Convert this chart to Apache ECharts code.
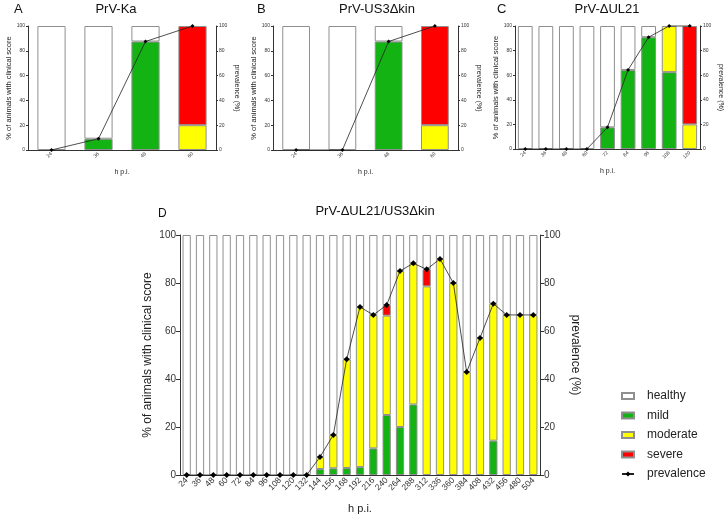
<!DOCTYPE html>
<html><head><meta charset="utf-8">
<script src="https://cdn.jsdelivr.net/npm/echarts@6/dist/echarts.min.js"></script>
<style>html,body{margin:0;padding:0;background:#fff}#c{width:728px;height:520px}</style>
</head><body><div id="c"></div>
<script>
// ---------- data ----------
const catsA = ['24','36','48','60'];
const mildA = [0, 9.1, 87.5, 0];
const moderateA = [0, 0, 0, 20];
const severeA = [0, 0, 0, 80];
const prevA = [0, 9.1, 87.5, 100];

const catsB = ['24','36','48','60'];
const mildB = [0, 0, 87.5, 0];
const moderateB = [0, 0, 0, 20];
const severeB = [0, 0, 0, 80];
const prevB = [0, 0, 87.5, 100];

const catsC = ['24','36','48','60','72','84','96','108','120'];
const mildC = [0, 0, 0, 0, 17.6, 64.3, 90.9, 62.5, 0];
const moderateC = [0, 0, 0, 0, 0, 0, 0, 37.5, 20];
const severeC = [0, 0, 0, 0, 0, 0, 0, 0, 80];
const prevC = [0, 0, 0, 0, 17.6, 64.3, 90.9, 100, 100];

const catsD = ['24','36','48','60','72','84','96','108','120','132','144','156','168','192','216','240','264','288','312','336','360','384','408','432','456','480','504'];
const mildD = [0,0,0,0,0,0,0,0,0,0, 2.5, 2.8, 2.9, 3.3, 11.1, 25, 20, 29.4, 0, 0, 0, 0, 0, 14.3, 0, 0, 0];
const moderateD = [0,0,0,0,0,0,0,0,0,0, 5, 13.9, 45.3, 66.7, 55.6, 41.4, 65, 58.8, 78.6, 90, 80, 42.9, 57.1, 57.1, 66.7, 66.7, 66.7];
const severeD = [0,0,0,0,0,0,0,0,0,0, 0, 0, 0, 0, 0, 4.4, 0, 0, 7.1, 0, 0, 0, 0, 0, 0, 0, 0];
const prevD = [0,0,0,0,0,0,0,0,0,0, 7.5, 16.7, 48.2, 70, 66.7, 70.8, 85, 88.2, 85.7, 90, 80, 42.9, 57.1, 71.4, 66.7, 66.7, 66.7];

const titlesSmall = ['PrV-Ka', 'PrV-US3\u0394kin', 'PrV-\u0394UL21'];
const titleD = 'PrV-\u0394UL21/US3\u0394kin';
const panelLetters = ['A', 'B', 'C', 'D'];
const legendNames = ['healthy', 'mild', 'moderate', 'severe', 'prevalence'];
const yLeftName = '% of animals with clinical score';
const yRightName = 'prevalence (%)';
const xName = 'h p.i.';

// ---------- style / layout ----------
const FONT = 'Liberation Sans, Arial, sans-serif';
const COL = { healthy: '#ffffff', mild: '#14b314', moderate: '#ffff00', severe: '#ff0000' };
const BORDER = '#8f8f8f';
const AX = '#333333';

const panels = [
  { cats: catsA, mild: mildA, moderate: moderateA, severe: severeA, prev: prevA,
    grid: { left: 28, top: 26, width: 188, height: 124 }, small: true, barWidth: '60%' },
  { cats: catsB, mild: mildB, moderate: moderateB, severe: severeB, prev: prevB,
    grid: { left: 273, top: 26, width: 185, height: 124 }, small: true, barWidth: '60%' },
  { cats: catsC, mild: mildC, moderate: moderateC, severe: severeC, prev: prevC,
    grid: { left: 515, top: 26, width: 185, height: 123 }, small: true, barWidth: '72%' },
  { cats: catsD, mild: mildD, moderate: moderateD, severe: severeD, prev: prevD,
    grid: { left: 180, top: 235, width: 360, height: 240 }, small: false, barWidth: '62%' }
];

const nz = arr => arr.map(v => (v === 0 ? null : v));

const grids = [], xAxes = [], yAxes = [], series = [];
panels.forEach((p, i) => {
  const s = p.small;
  grids.push(Object.assign({}, p.grid));
  xAxes.push({
    type: 'category', gridIndex: i, data: p.cats,
    axisLine: { lineStyle: { color: AX, width: 1 } },
    axisTick: { alignWithLabel: true, length: s ? 2 : 4, lineStyle: { color: AX } },
    axisLabel: { rotate: 45, fontSize: s ? 5 : 8.5, color: '#333', margin: s ? 3 : 4, fontFamily: FONT, interval: 0 },
    name: xName, nameLocation: 'middle', nameGap: s ? 19 : 28,
    nameTextStyle: { fontSize: s ? 7 : 11, color: '#222', fontFamily: FONT }
  });
  const yBase = {
    type: 'value', gridIndex: i, min: 0, max: 100, interval: 20,
    axisLine: { show: true, lineStyle: { color: AX, width: 1 } },
    axisTick: { show: true, length: s ? 2 : 4, lineStyle: { color: AX } },
    splitLine: { show: false },
    axisLabel: { fontSize: s ? 5 : 10, color: '#333', margin: s ? 3 : 4, fontFamily: FONT },
    nameLocation: 'middle'
  };
  yAxes.push(Object.assign({}, yBase, {
    position: 'left', name: yLeftName, nameRotate: 90, nameGap: s ? 14 : 26,
    nameTextStyle: { fontSize: s ? 7.5 : 12, color: '#222', fontFamily: FONT }
  }));
  yAxes.push(Object.assign({}, yBase, {
    position: 'right', name: yRightName, nameRotate: -90, nameGap: s ? 17 : 29,
    nameTextStyle: { fontSize: s ? 7 : 12, color: '#222', fontFamily: FONT }
  }));
  const healthy = p.cats.map((_, k) => Math.round((100 - p.mild[k] - p.moderate[k] - p.severe[k]) * 10) / 10);
  const bar = (name, data) => ({
    name, type: 'bar', xAxisIndex: i, yAxisIndex: 2 * i, stack: 'st' + i,
    barWidth: p.barWidth, data: nz(data),
    itemStyle: { color: COL[name], borderColor: BORDER, borderWidth: 1 },
    emphasis: { disabled: true }
  });
  series.push(bar('mild', p.mild));
  series.push(bar('moderate', p.moderate));
  series.push(bar('severe', p.severe));
  series.push(bar('healthy', healthy));
  series.push({
    name: 'prevalence', type: 'line', xAxisIndex: i, yAxisIndex: 2 * i + 1,
    data: p.prev, symbol: 'diamond', symbolSize: s ? 4 : 6, clip: false, z: 5,
    lineStyle: { color: '#222', width: 0.8 }, itemStyle: { color: '#000' },
    emphasis: { disabled: true }
  });
});

const graphics = [
  { type: 'text', x: 14, y: 3, style: { text: panelLetters[0], fontSize: 13, fontFamily: FONT, fill: '#111' } },
  { type: 'text', x: 116, y: 3, style: { text: titlesSmall[0], fontSize: 13, fontFamily: FONT, fill: '#111', textAlign: 'center' } },
  { type: 'text', x: 257, y: 3, style: { text: panelLetters[1], fontSize: 13, fontFamily: FONT, fill: '#111' } },
  { type: 'text', x: 377, y: 3, style: { text: titlesSmall[1], fontSize: 13, fontFamily: FONT, fill: '#111', textAlign: 'center' } },
  { type: 'text', x: 497, y: 3, style: { text: panelLetters[2], fontSize: 13, fontFamily: FONT, fill: '#111' } },
  { type: 'text', x: 607, y: 3, style: { text: titlesSmall[2], fontSize: 13, fontFamily: FONT, fill: '#111', textAlign: 'center' } },
  { type: 'text', x: 158, y: 208, style: { text: panelLetters[3], fontSize: 12, fontFamily: FONT, fill: '#111' } },
  { type: 'text', x: 375, y: 205, style: { text: titleD, fontSize: 13, fontFamily: FONT, fill: '#111', textAlign: 'center' } }
];

const chart = echarts.init(document.getElementById('c'), null, { renderer: 'canvas' });
chart.setOption({
  animation: false,
  backgroundColor: '#fff',
  textStyle: { fontFamily: FONT },
  grid: grids, xAxis: xAxes, yAxis: yAxes, series,
  legend: {
    orient: 'vertical', left: 616, top: 385, itemWidth: 12, itemHeight: 6, itemGap: 7.5,
    selectedMode: false,
    textStyle: { fontSize: 12, color: '#222', fontFamily: FONT, padding: [0, 0, 0, 8] },
    data: legendNames.map(n => n === 'prevalence' ? { name: n } : { name: n, icon: 'rect' })
  },
  graphic: graphics
});
</script></body></html>
